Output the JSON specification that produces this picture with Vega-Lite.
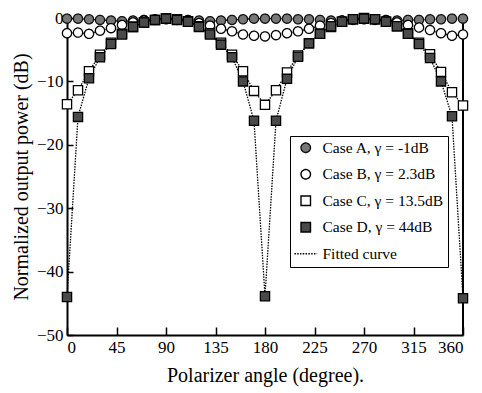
{
  "$schema": "https://vega.github.io/schema/vega-lite/v6.json",
  "width": 396,
  "height": 317,
  "autosize": "none",
  "padding": {"left": 67, "top": 18, "right": 19, "bottom": 58},
  "background": "white",
  "config": {
    "view": {"stroke": null},
    "font": "Liberation Serif",
    "axis": {
      "grid": false,
      "domainColor": "black",
      "domainWidth": 2,
      "tickColor": "black",
      "tickWidth": 1.5,
      "labelFont": "Liberation Serif",
      "labelFontSize": 17,
      "labelColor": "black",
      "titleFont": "Liberation Serif",
      "titleFontSize": 20,
      "titleFontWeight": "normal",
      "titleColor": "black"
    }
  },
  "datasets": {
    "meas": [
      {"angle": 0, "power": -0.1, "series": "A"}, {"angle": 10, "power": -0.1, "series": "A"}, {"angle": 20, "power": -0.2, "series": "A"}, {"angle": 30, "power": -0.3, "series": "A"}, {"angle": 40, "power": -0.4, "series": "A"}, {"angle": 50, "power": -0.5, "series": "A"}, {"angle": 60, "power": -0.4, "series": "A"}, {"angle": 70, "power": -0.3, "series": "A"}, {"angle": 80, "power": -0.3, "series": "A"}, {"angle": 90, "power": -0.2, "series": "A"}, {"angle": 100, "power": -0.3, "series": "A"}, {"angle": 110, "power": -0.3, "series": "A"}, {"angle": 120, "power": -0.4, "series": "A"}, {"angle": 130, "power": -0.5, "series": "A"}, {"angle": 140, "power": -0.4, "series": "A"}, {"angle": 150, "power": -0.3, "series": "A"}, {"angle": 160, "power": -0.2, "series": "A"}, {"angle": 170, "power": -0.1, "series": "A"}, {"angle": 180, "power": -0.1, "series": "A"}, {"angle": 190, "power": -0.1, "series": "A"}, {"angle": 200, "power": -0.1, "series": "A"}, {"angle": 210, "power": -0.2, "series": "A"}, {"angle": 220, "power": -0.2, "series": "A"}, {"angle": 230, "power": -0.3, "series": "A"}, {"angle": 240, "power": -0.4, "series": "A"}, {"angle": 250, "power": -0.4, "series": "A"}, {"angle": 260, "power": -0.3, "series": "A"}, {"angle": 270, "power": -0.2, "series": "A"}, {"angle": 280, "power": -0.3, "series": "A"}, {"angle": 290, "power": -0.3, "series": "A"}, {"angle": 300, "power": -0.4, "series": "A"}, {"angle": 310, "power": -0.3, "series": "A"}, {"angle": 320, "power": -0.3, "series": "A"}, {"angle": 330, "power": -0.2, "series": "A"}, {"angle": 340, "power": -0.2, "series": "A"}, {"angle": 350, "power": -0.1, "series": "A"}, {"angle": 360, "power": -0.1, "series": "A"},
      {"angle": 0, "power": -2.4, "series": "B"}, {"angle": 10, "power": -2.3, "series": "B"}, {"angle": 20, "power": -2.5, "series": "B"}, {"angle": 30, "power": -2.0, "series": "B"}, {"angle": 40, "power": -1.6, "series": "B"}, {"angle": 50, "power": -1.1, "series": "B"}, {"angle": 60, "power": -0.7, "series": "B"}, {"angle": 70, "power": -0.4, "series": "B"}, {"angle": 80, "power": -0.2, "series": "B"}, {"angle": 90, "power": -0.1, "series": "B"}, {"angle": 100, "power": -0.2, "series": "B"}, {"angle": 110, "power": -0.4, "series": "B"}, {"angle": 120, "power": -0.8, "series": "B"}, {"angle": 130, "power": -1.2, "series": "B"}, {"angle": 140, "power": -1.7, "series": "B"}, {"angle": 150, "power": -2.1, "series": "B"}, {"angle": 160, "power": -2.6, "series": "B"}, {"angle": 170, "power": -2.8, "series": "B"}, {"angle": 180, "power": -2.9, "series": "B"}, {"angle": 190, "power": -2.7, "series": "B"}, {"angle": 200, "power": -2.4, "series": "B"}, {"angle": 210, "power": -2.1, "series": "B"}, {"angle": 220, "power": -1.7, "series": "B"}, {"angle": 230, "power": -1.2, "series": "B"}, {"angle": 240, "power": -0.8, "series": "B"}, {"angle": 250, "power": -0.4, "series": "B"}, {"angle": 260, "power": -0.2, "series": "B"}, {"angle": 270, "power": -0.1, "series": "B"}, {"angle": 280, "power": -0.2, "series": "B"}, {"angle": 290, "power": -0.4, "series": "B"}, {"angle": 300, "power": -0.7, "series": "B"}, {"angle": 310, "power": -1.1, "series": "B"}, {"angle": 320, "power": -1.5, "series": "B"}, {"angle": 330, "power": -1.9, "series": "B"}, {"angle": 340, "power": -2.4, "series": "B"}, {"angle": 350, "power": -2.8, "series": "B"}, {"angle": 360, "power": -2.6, "series": "B"},
      {"angle": 0, "power": -13.6, "series": "C"}, {"angle": 10, "power": -11.4, "series": "C"}, {"angle": 20, "power": -8.4, "series": "C"}, {"angle": 30, "power": -5.8, "series": "C"}, {"angle": 40, "power": -3.9, "series": "C"}, {"angle": 50, "power": -2.5, "series": "C"}, {"angle": 60, "power": -1.4, "series": "C"}, {"angle": 70, "power": -0.7, "series": "C"}, {"angle": 80, "power": -0.3, "series": "C"}, {"angle": 90, "power": -0.1, "series": "C"}, {"angle": 100, "power": -0.2, "series": "C"}, {"angle": 110, "power": -0.5, "series": "C"}, {"angle": 120, "power": -1.3, "series": "C"}, {"angle": 130, "power": -2.4, "series": "C"}, {"angle": 140, "power": -3.9, "series": "C"}, {"angle": 150, "power": -5.8, "series": "C"}, {"angle": 160, "power": -8.4, "series": "C"}, {"angle": 170, "power": -11.5, "series": "C"}, {"angle": 180, "power": -13.7, "series": "C"}, {"angle": 190, "power": -11.4, "series": "C"}, {"angle": 200, "power": -8.6, "series": "C"}, {"angle": 210, "power": -5.9, "series": "C"}, {"angle": 220, "power": -4.0, "series": "C"}, {"angle": 230, "power": -2.5, "series": "C"}, {"angle": 240, "power": -1.4, "series": "C"}, {"angle": 250, "power": -0.6, "series": "C"}, {"angle": 260, "power": -0.2, "series": "C"}, {"angle": 270, "power": 0.0, "series": "C"}, {"angle": 280, "power": -0.2, "series": "C"}, {"angle": 290, "power": -0.6, "series": "C"}, {"angle": 300, "power": -1.3, "series": "C"}, {"angle": 310, "power": -2.4, "series": "C"}, {"angle": 320, "power": -3.9, "series": "C"}, {"angle": 330, "power": -5.7, "series": "C"}, {"angle": 340, "power": -8.5, "series": "C"}, {"angle": 350, "power": -11.7, "series": "C"}, {"angle": 360, "power": -13.8, "series": "C"},
      {"angle": 0, "power": -44.0, "series": "D"}, {"angle": 10, "power": -15.6, "series": "D"}, {"angle": 20, "power": -9.5, "series": "D"}, {"angle": 30, "power": -6.2, "series": "D"}, {"angle": 40, "power": -4.1, "series": "D"}, {"angle": 50, "power": -2.6, "series": "D"}, {"angle": 60, "power": -1.4, "series": "D"}, {"angle": 70, "power": -0.7, "series": "D"}, {"angle": 80, "power": -0.3, "series": "D"}, {"angle": 90, "power": -0.1, "series": "D"}, {"angle": 100, "power": -0.3, "series": "D"}, {"angle": 110, "power": -0.6, "series": "D"}, {"angle": 120, "power": -1.4, "series": "D"}, {"angle": 130, "power": -2.6, "series": "D"}, {"angle": 140, "power": -4.2, "series": "D"}, {"angle": 150, "power": -6.2, "series": "D"}, {"angle": 160, "power": -10.0, "series": "D"}, {"angle": 170, "power": -16.2, "series": "D"}, {"angle": 180, "power": -43.9, "series": "D"}, {"angle": 190, "power": -16.2, "series": "D"}, {"angle": 200, "power": -9.6, "series": "D"}, {"angle": 210, "power": -6.1, "series": "D"}, {"angle": 220, "power": -4.0, "series": "D"}, {"angle": 230, "power": -2.5, "series": "D"}, {"angle": 240, "power": -1.3, "series": "D"}, {"angle": 250, "power": -0.6, "series": "D"}, {"angle": 260, "power": -0.2, "series": "D"}, {"angle": 270, "power": -0.1, "series": "D"}, {"angle": 280, "power": -0.2, "series": "D"}, {"angle": 290, "power": -0.6, "series": "D"}, {"angle": 300, "power": -1.3, "series": "D"}, {"angle": 310, "power": -2.5, "series": "D"}, {"angle": 320, "power": -4.1, "series": "D"}, {"angle": 330, "power": -6.3, "series": "D"}, {"angle": 340, "power": -10.0, "series": "D"}, {"angle": 350, "power": -15.5, "series": "D"}, {"angle": 360, "power": -44.2, "series": "D"}
    ]
  },
  "data": {"name": "meas"},
  "layer": [
    {
      "mark": {"type": "line", "color": "black", "strokeWidth": 1.3, "strokeDash": [1.5, 1.2]},
      "encoding": {
        "x": {"field": "angle", "type": "quantitative", "scale": {"domain": [0, 360], "nice": false},
          "axis": {"values": [0, 45, 90, 135, 180, 225, 270, 315, 360], "tickSize": -8, "labelPadding": 12, "title": "Polarizer angle (degree).", "titlePadding": 10,
            "encode": {"ticks": {"update": {"y2": {"signal": "(datum.value === 90 || datum.value === 180 || datum.value === 270) ? -12 : -8"}}}}}},
        "y": {"field": "power", "type": "quantitative", "scale": {"domain": [-50, 0], "nice": false},
          "axis": {"values": [0, -10, -20, -30, -40, -50], "tickSize": -6, "labelPadding": 10, "title": "Normalized output power (dB)", "titlePadding": 5}},
        "detail": {"field": "series"},
        "order": {"field": "angle"}
      }
    },
    {
      "data": {"values": [{}]},
      "mark": {"type": "rule", "color": "black", "strokeWidth": 2},
      "encoding": {
        "x": {"datum": 360, "type": "quantitative"},
        "y": {"datum": -50, "type": "quantitative"},
        "y2": {"datum": 0}
      }
    },
    {
      "mark": {"type": "point", "filled": false, "size": 85, "strokeWidth": 1.3, "opacity": 1},
      "encoding": {
        "x": {"field": "angle", "type": "quantitative"},
        "y": {"field": "power", "type": "quantitative"},
        "shape": {"field": "series", "type": "nominal",
          "scale": {"domain": ["A", "B", "C", "D", "F"], "range": ["circle", "circle", "square", "square", "M-2.4,0H2.4"]},
          "legend": {
            "title": null,
            "orient": "none",
            "legendX": 223,
            "legendY": 118,
            "strokeColor": "black",
            "fillColor": "white",
            "padding": 4,
            "symbolOffset": 4,
            "rowPadding": 9.5,
            "symbolSize": 90,
            "symbolStrokeWidth": 1.4,
            "labelFont": "Liberation Serif",
            "labelFontSize": 15.5,
            "labelColor": "black",
            "labelOffset": 9,
            "labelExpr": "{'A': 'Case A, γ = -1dB', 'B': 'Case B, γ = 2.3dB', 'C': 'Case C, γ = 13.5dB', 'D': 'Case D, γ = 44dB', 'F': 'Fitted curve'}[datum.label]"
          }
        },
        "fill": {"field": "series", "type": "nominal",
          "scale": {"domain": ["A", "B", "C", "D", "F"], "range": ["#777777", "white", "white", "#4a4a4a", "transparent"]}},
        "stroke": {"field": "series", "type": "nominal",
          "scale": {"domain": ["A", "B", "C", "D", "F"], "range": ["#111", "black", "black", "black", "black"]}},
        "strokeDash": {"field": "series", "type": "nominal",
          "scale": {"domain": ["A", "B", "C", "D", "F"], "range": [[1, 0], [1, 0], [1, 0], [1, 0], [1.5, 1.3]]}}
      }
    }
  ]
}
